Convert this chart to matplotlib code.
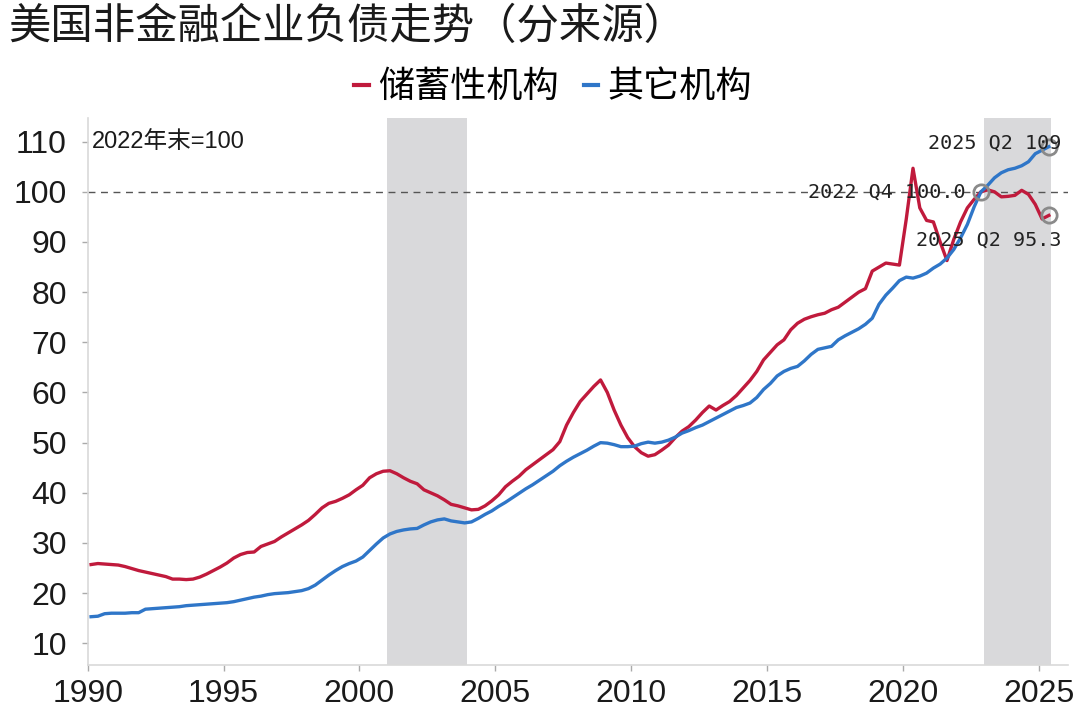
import numpy as np
import pandas as pd
import matplotlib
matplotlib.use('Agg')
import matplotlib.pyplot as plt
from matplotlib.font_manager import FontProperties

# quarterly index, 2022Q4 = 100
start_quarter = '1990Q1'
end_quarter = '2025Q2'

savings = [
    25.7, 25.9, 25.8, 25.7,   # 1990
    25.6, 25.3, 24.9, 24.5,
    24.2, 23.9, 23.6, 23.3,
    22.8, 22.8, 22.7, 22.8,
    23.2, 23.8, 24.5, 25.2,
    26.0, 27.0, 27.7, 28.1,   # 1995
    28.2, 29.3, 29.8, 30.3,
    31.2, 32.0, 32.8, 33.6,
    34.5, 35.7, 37.0, 37.9,
    38.3, 38.9, 39.6, 40.6,
    41.5, 43.0, 43.8, 44.3,   # 2000
    44.4, 43.8, 43.0, 42.3,
    41.8, 40.6, 40.0, 39.4,
    38.6, 37.7, 37.4, 37.0,
    36.6, 36.7, 37.4, 38.4,
    39.6, 41.2, 42.3, 43.3,   # 2005
    44.6, 45.6, 46.6, 47.6,
    48.6, 50.2, 53.5, 56.0,
    58.2, 59.7, 61.2, 62.5,
    60.0, 56.5, 53.5, 51.0,
    49.2, 48.0, 47.3, 47.6,   # 2010
    48.5, 49.5, 51.0, 52.3,
    53.2, 54.5, 56.0, 57.3,
    56.5, 57.4, 58.2, 59.4,
    60.9, 62.4, 64.2, 66.5,
    68.0, 69.5, 70.5, 72.5,   # 2015
    73.8, 74.6, 75.1, 75.5,
    75.8, 76.5, 77.0, 78.0,
    79.0, 80.0, 80.7, 84.2,
    85.0, 85.8, 85.6, 85.4,
    94.5, 104.7, 96.8, 94.3,  # 2020
    94.0, 90.0, 86.3, 90.5,
    94.0, 96.8, 98.5, 100.0,
    100.4, 100.0, 99.0, 99.1,
    99.3, 100.3, 99.5, 97.5,
    94.6, 95.3,               # 2025
]

others = [
    15.3, 15.4, 15.9, 16.0,   # 1990
    16.0, 16.0, 16.1, 16.1,
    16.8, 16.9, 17.0, 17.1,
    17.2, 17.3, 17.5, 17.6,
    17.7, 17.8, 17.9, 18.0,
    18.1, 18.3, 18.6, 18.9,   # 1995
    19.2, 19.4, 19.7, 19.9,
    20.0, 20.1, 20.3, 20.5,
    20.9, 21.6, 22.6, 23.6,
    24.5, 25.3, 25.9, 26.4,
    27.2, 28.5, 29.8, 31.0,   # 2000
    31.8, 32.3, 32.6, 32.8,
    32.9, 33.6, 34.2, 34.6,
    34.8, 34.4, 34.2, 34.0,
    34.2, 34.9, 35.7, 36.4,
    37.3, 38.1, 39.0, 39.9,   # 2005
    40.8, 41.6, 42.5, 43.4,
    44.3, 45.4, 46.3, 47.1,
    47.8, 48.5, 49.3, 50.0,
    49.9, 49.6, 49.2, 49.2,
    49.3, 49.8, 50.1, 49.9,   # 2010
    50.1, 50.5, 51.1, 51.9,
    52.4, 53.0, 53.5, 54.2,
    54.9, 55.6, 56.3, 57.0,
    57.4, 57.9, 59.0, 60.6,
    61.8, 63.3, 64.2, 64.8,   # 2015
    65.2, 66.3, 67.6, 68.6,
    68.9, 69.2, 70.5, 71.3,
    72.0, 72.7, 73.6, 74.8,
    77.6, 79.4, 80.8, 82.3,
    83.0, 82.8, 83.2, 83.8,   # 2020
    84.8, 85.6, 86.8, 88.5,
    90.8, 93.5, 97.0, 100.0,
    101.3, 102.8, 103.8, 104.4,
    104.7, 105.2, 106.0, 107.6,
    108.3, 109.0,             # 2025
]

recessions = [(2001.0, 2003.95), (2023.0, 2025.45)]
x_ticks = [1990, 1995, 2000, 2005, 2010, 2015, 2020, 2025]
y_ticks = [10, 20, 30, 40, 50, 60, 70, 80, 90, 100, 110]

quarters = pd.period_range(start_quarter, end_quarter, freq='Q')
t = np.array([p.year + (p.quarter - 0.5) / 4 for p in quarters])

red = '#c01a3c'
blue = '#2f76c8'
cjk = ['Noto Sans CJK SC', 'DejaVu Sans']

fig = plt.figure(figsize=(10.8, 7.16), dpi=100)
ax = fig.add_axes([0.0812, 0.0712, 0.9077, 0.764])

for a, b in recessions:
    ax.axvspan(a, b, color='#d9d9db', lw=0, zorder=0)

ax.axhline(100, color='#555555', lw=1, ls=(0, (5, 4)), zorder=1)

l1, = ax.plot(t, savings, color=red, lw=2.4, zorder=3, label='储蓄性机构')
l2, = ax.plot(t, others, color=blue, lw=2.4, zorder=3, label='其它机构')

# markers for the highlighted points
ring = dict(marker='o', ms=11, mfc='none', mec='#8a8a8a', mew=2, ls='none', zorder=5)
i_base = list(quarters.astype(str)).index('2022Q4')
ax.plot([t[i_base]], [savings[i_base]], **ring)
ax.plot([t[-1]], [others[-1]], **ring)
ax.plot([t[-1]], [savings[-1]], **ring)

mono = dict(family='DejaVu Sans Mono', fontsize=14.5, color='#222222', zorder=6)
ax.text(2025.84, 109.7, '2025 Q2 %.0f' % others[-1], ha='right', va='center', **mono)
ax.text(2022.3, 100, '2022 Q4 %.1f' % savings[i_base], ha='right', va='center', **mono)
ax.text(2025.84, 90.4, '2025 Q2 %.1f' % savings[-1], ha='right', va='center', **mono)

ax.text(1990.15, 110, '2022年末=100', ha='left', va='center', fontsize=17,
        family=['Liberation Sans', 'Noto Sans CJK SC'], color='#1a1a1a')

ax.set_xlim(1990, 2026.08)
ax.set_ylim(5.67, 114.72)
ax.set_xticks(x_ticks)
ax.set_yticks(y_ticks)

for s in ['top', 'right']:
    ax.spines[s].set_visible(False)
for s in ['left', 'bottom']:
    ax.spines[s].set_color('#d9d9d9')
    ax.spines[s].set_linewidth(1.2)
ax.tick_params(axis='both', colors='#aaaaaa', length=4, width=1)
ax.tick_params(axis='y', pad=11)
ax.tick_params(axis='x', pad=6)
for lab in ax.get_xticklabels() + ax.get_yticklabels():
    lab.set_fontfamily('Liberation Sans')
    lab.set_fontsize(23)
    lab.set_color('#1a1a1a')

fig.text(0.008, 0.963, '美国非金融企业负债走势（分来源）', ha='left', va='center',
         fontsize=30.5, family=cjk, color='#1a1a1a')

fig.legend(handles=[l1, l2], loc='center', bbox_to_anchor=(0.512, 0.878),
           ncol=2, frameon=False, prop=FontProperties(family=cjk, size=26),
           handlelength=0.4, handletextpad=0.25, columnspacing=0.7,
           borderaxespad=0)
for line in fig.legends[0].get_lines():
    line.set_linewidth(3)

fig.savefig('out.png', dpi=100)
